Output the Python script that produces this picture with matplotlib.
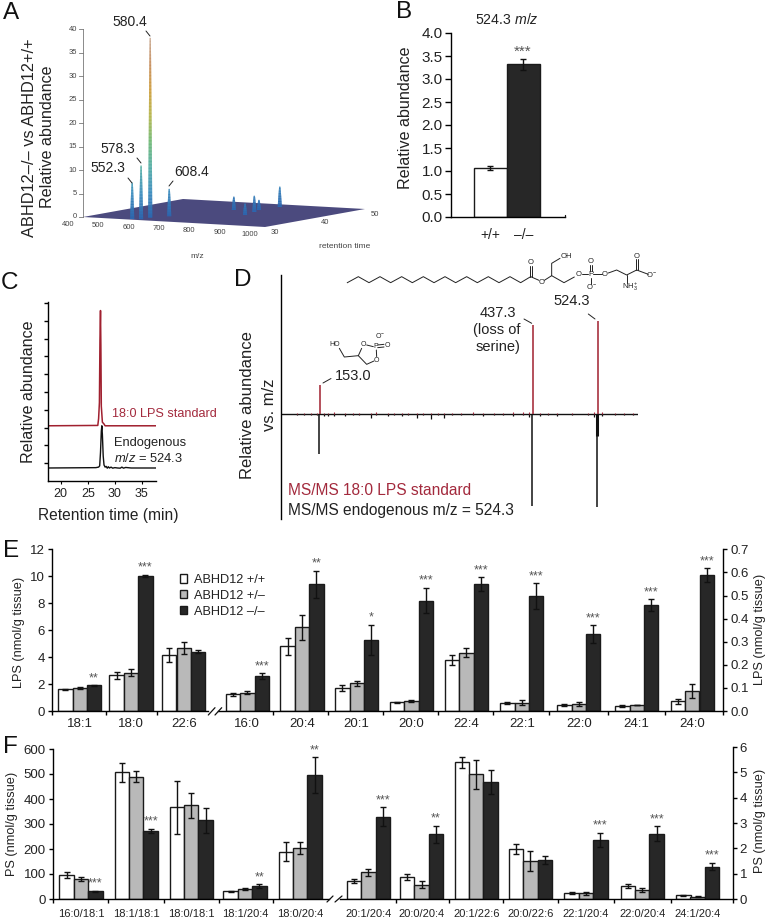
import matplotlib
matplotlib.use('Agg')
import matplotlib.pyplot as plt
from matplotlib.colors import LinearSegmentedColormap
from matplotlib.patches import Patch
import numpy as np

plt.rcParams['font.family'] = ['Liberation Sans', 'DejaVu Sans']
plt.rcParams['mathtext.fontset'] = 'custom'
plt.rcParams['mathtext.rm'] = 'Liberation Sans'
plt.rcParams['mathtext.it'] = 'Liberation Sans:italic'
plt.rcParams['axes.linewidth'] = 1.0

W, H = 768, 918
INK = '#222222'
RED = '#a32a3d'
WHITE_BAR, GRAY_BAR, DARK_BAR = 'white', '#b9b9b9', '#272727'

# panel A: peaks of the 3D map
a_mz = [552.3, 578.3, 580.4, 608.4, 683, 781, 762, 746, 757]
a_rt = [30.6, 30.8, 32.5, 34.6, 43.0, 39.3, 42.3, 44.2, 47.7]
a_h = [7.7, 11.4, 38.3, 5.8, 2.8, 2.4, 3.4, 2.1, 4.3]
a_z_ticks = [0, 5, 10, 15, 20, 25, 30, 35, 40]
a_mz_ticks = [400, 500, 600, 700, 800, 900, 1000]
a_rt_ticks = [30, 40, 50]

# panel B
b_labels = ['+/+', '–/–']
b_vals = [1.06, 3.32]
b_errs = [0.04, 0.12]

# panel C
c_red_rt = [17.6, 26.85, 27.0, 27.15, 27.25, 27.35, 27.42, 27.5, 27.7, 28.0, 28.2, 37.6]
c_red_y = [3.1, 3.12, 3.5, 4.4, 7.9, 9.57, 7.6, 4.2, 3.3, 3.2, 3.1, 3.1]
c_blk_rt = [17.6, 26.5, 27.0, 27.2, 27.35, 27.5, 27.6, 27.7, 27.85, 28.0, 28.2, 28.4, 28.6, 28.8, 29.0, 29.3,
            29.6, 30.0, 30.5, 31.0, 31.3, 31.6, 32.0, 33.0, 37.6]
c_blk_y = [0.73, 0.75, 0.78, 0.85, 1.6, 2.8, 3.1, 2.6, 1.4, 0.9, 0.78, 0.82, 0.72, 0.8, 0.73, 0.78,
           0.72, 0.75, 0.73, 0.72, 0.78, 0.72, 0.76, 0.73, 0.73]

# panel D
d_peak_mz = [153.0, 437.3, 524.3]
d_red = [31.6, 95.7, 100]
d_blk = [-43, -99, -100]
d_noise_mz = [122, 131, 141, 148, 158, 164, 172, 186, 197, 205, 221, 228, 244, 252, 262, 270, 282, 290, 301, 310, 319,
              330, 342, 358, 371, 385, 398, 411, 425, 433, 447, 458, 470, 490, 511, 520, 530, 548, 560, 572]
d_noise_up = [0.8, 1.2, 1, 1.5, 1.2, 1.6, 2.5, 1.5, 1, 1.2, 1, 2, 1, 1.5, 1, 1.2, 1, 1.5, 1, 1.2, 1,
              1.5, 1.2, 1.8, 1.3, 1, 1.5, 1.8, 2.5, 2, 1.5, 1, 1.5, 1, 1.5, 2, 2, 1, 1.4, 1]
d_noise_dn = [-1, -0.8, -1, -1.2, -2, -2.5, -2, -1.5, -1, -0.8, -4, -1.2, -1.5, -1, -2, -1, -4.5, -1, -5.5, -1, -4.5,
              -1, -1.2, -1, -1.5, -1, -1.2, -1.5, -1.2, -3, -1.5, -1, -1.5, -1, -1.2, -3, -2, -1, -1.2, -1]

# panel E
e_labels = ['18:1', '18:0', '22:6', '16:0', '20:4', '20:1', '20:0', '22:4', '22:1', '22:0', '24:1', '24:0']
e_wt = [1.6, 2.65, 4.15, 0.072, 0.28, 0.099, 0.038, 0.222, 0.034, 0.026, 0.022, 0.042]
e_wt_err = [0.05, 0.25, 0.55, 0.006, 0.038, 0.014, 0.003, 0.022, 0.005, 0.004, 0.003, 0.01]
e_het = [1.68, 2.85, 4.65, 0.08, 0.362, 0.12, 0.044, 0.252, 0.036, 0.03, 0.025, 0.086]
e_het_err = [0.08, 0.25, 0.45, 0.008, 0.055, 0.012, 0.003, 0.02, 0.01, 0.008, 0.001, 0.03]
e_ko = [1.9, 10.05, 4.4, 0.152, 0.548, 0.309, 0.478, 0.55, 0.497, 0.333, 0.46, 0.588]
e_ko_err = [0.03, 0.07, 0.1, 0.012, 0.06, 0.065, 0.055, 0.03, 0.055, 0.038, 0.025, 0.03]
e_stars = ['**', '***', '', '***', '**', '*', '***', '***', '***', '***', '***', '***']
legend_labels = ['ABHD12 +/+', 'ABHD12 +/–', 'ABHD12 –/–']

# panel F
f_labels = ['16:0/18:1', '18:1/18:1', '18:0/18:1', '18:1/20:4', '18:0/20:4', '20:1/20:4', '20:0/20:4',
            '20:1/22:6', '20:0/22:6', '22:1/20:4', '22:0/20:4', '24:1/20:4']
f_wt = [95, 507, 367, 31, 190, 0.71, 0.86, 5.39, 1.99, 0.25, 0.51, 0.14]
f_wt_err = [12, 38, 107, 3, 38, 0.08, 0.12, 0.22, 0.2, 0.04, 0.08, 0.03]
f_het = [80, 490, 376, 40, 205, 1.05, 0.57, 4.92, 1.5, 0.22, 0.34, 0.09]
f_het_err = [8, 22, 50, 3, 25, 0.15, 0.14, 0.58, 0.4, 0.05, 0.08, 0.02]
f_ko = [31, 273, 315, 53, 495, 3.25, 2.55, 4.63, 1.53, 2.33, 2.57, 1.28]
f_ko_err = [3, 8, 50, 7, 72, 0.38, 0.35, 0.48, 0.15, 0.28, 0.3, 0.15]
f_stars = ['***', '***', '', '**', '**', '***', '**', '', '', '***', '***', '***']

fig = plt.figure(figsize=(W / 100, H / 100), dpi=100)


def px_axes(left, top, right, bottom):
    return fig.add_axes([left / W, 1 - bottom / H, (right - left) / W, (bottom - top) / H])


# overlay in pixel units, used for labels, leader lines and the structures
ov = fig.add_axes([0, 0, 1, 1], zorder=20)
ov.set_xlim(0, W)
ov.set_ylim(H, 0)
ov.axis('off')
ov.patch.set_alpha(0)


def txt(x, y, s, size=10, color=INK, ha='center', va='center', **kw):
    ov.text(x, y, s, fontsize=size, color=color, ha=ha, va=va, **kw)


def seg(points, lw=0.7, color=INK):
    xs, ys = zip(*points)
    ov.plot(xs, ys, color=color, lw=lw, solid_capstyle='round')


for letter, lx, ly in [('A', 3, 13), ('B', 396, 12), ('C', 1, 283), ('D', 234, 280), ('E', 3, 551), ('F', 3, 747)]:
    txt(lx, ly, letter, size=17.5, color='#111111', ha='left')


# ---- A: pseudo 3D map, projected by hand onto the overlay
def project(mz, rt, h=0.0):
    u = (np.asarray(mz, float) - 400) / 600
    v = (np.asarray(rt, float) - 30) / 20
    return 83 + 182 * u + 100 * v, 217 + 10 * u - 18 * v - 4.69 * np.asarray(h, float)


corners = [project(400, 30), project(1000, 30), project(1000, 50), project(400, 50)]
ov.fill([c[0] for c in corners], [c[1] for c in corners], color='#4b4a7e', lw=0, zorder=1)
a_cmap = LinearSegmentedColormap.from_list('peak', ['#2b66b0', '#3f8fc0', '#58b0a8', '#74bb78', '#b8b850',
                                                    '#d0a040', '#c89060', '#c8a890'])
order = np.argsort(a_rt)[::-1]
for i in order:
    levels = np.linspace(0, a_h[i], int(a_h[i] * 6) + 4)
    bx, by = project(a_mz[i], a_rt[i])
    for lo, hi in zip(levels[:-1], levels[1:]):
        w_lo = 0.6 + 1.5 * (1 - lo / a_h[i]) ** 0.8
        w_hi = 0.6 + 1.5 * (1 - hi / a_h[i]) ** 0.8
        ov.fill([bx - w_lo, bx + w_lo, bx + w_hi, bx - w_hi],
                [by - 4.69 * lo, by - 4.69 * lo, by - 4.69 * hi - 0.3, by - 4.69 * hi - 0.3],
                color=a_cmap(min(hi / 38.3, 1)), lw=0, zorder=2)

zx, zy0 = project(400, 30)
ov.plot([zx, zx], [zy0, zy0 - 4.69 * 40], color='#777777', lw=0.6, zorder=3)
for t in a_z_ticks:
    ty = zy0 - 4.69 * t
    ov.plot([zx - 4, zx], [ty, ty], color='#777777', lw=0.6, zorder=3)
    txt(zx - 6, ty, str(t), size=5.5, color='#444444', ha='right')
for t in a_mz_ticks:
    tx, ty = project(t, 30)
    txt(tx - 15, ty + 7, str(t), size=5.5, color='#444444')
for t in a_rt_ticks:
    tx2, ty2 = project(1000, t)
    txt(tx2 + 10, ty2 + 5, str(t), size=5.5, color='#444444')
txt(197, 256, 'm/z', size=6, color='#444444')
txt(345, 246, 'retention time', size=6, color='#444444')
txt(30, 138, 'ABHD12–/– vs ABHD12+/+', size=11.8, rotation=90)
txt(48, 137, 'Relative abundance', size=11.6, rotation=90)
for s, x, y in [('580.4', 130, 22), ('578.3', 118, 149), ('552.3', 108, 168), ('608.4', 192, 172)]:
    txt(x, y, s, size=10)
seg([(146, 31), (150, 36)])
seg([(137, 158), (141, 163)])
seg([(128, 178), (132, 183)])
seg([(173, 181), (169, 186)])

# ---- B
ax = px_axes(451, 33, 565, 217)
ax.bar(range(2), b_vals, width=1, color=[WHITE_BAR, DARK_BAR], edgecolor='#1a1a1a', lw=1.0)
ax.errorbar(range(2), b_vals, yerr=b_errs, fmt='none', ecolor='#111111', elinewidth=1, capsize=2.5, capthick=1)
ax.set_xlim(-1.197, 2.258)
ax.set_ylim(0, 4)
ax.set_yticks(np.arange(0, 4.5, 0.5))
ax.set_xticks(range(2))
ax.set_xticklabels(b_labels, fontsize=10, color=INK)
ax.tick_params(axis='x', length=0, pad=8)
ax.tick_params(axis='y', length=4, width=1, pad=2, labelsize=11, labelcolor=INK)
for side in ['top', 'right']:
    ax.spines[side].set_visible(False)
txt(405, 117.5, 'Relative abundance', size=11.6, rotation=90)
txt(507, 20, r'524.3 $\it{m/z}$', size=10.2)
txt(522.7, 52, '***', size=11, color='#555555')
seg([(565, 214.5), (565, 217)], lw=0.9, color='#111111')

# ---- C
ax = px_axes(47.7, 302, 156, 481)
ax.plot(c_blk_rt, c_blk_y, color='#111111', lw=1.0)
ax.plot(c_red_rt, c_red_y, color='#a0202f', lw=1.1)
ax.set_xlim(17.6, 37.6)
ax.set_ylim(0, 10.05)
ax.set_xticks([20, 25, 30, 35])
ax.set_yticks(range(1, 11))
ax.set_yticklabels([])
ax.tick_params(axis='x', length=2, width=0.8, pad=3, labelsize=9, labelcolor=INK)
ax.tick_params(axis='y', length=3, width=1)
for side in ['top', 'right']:
    ax.spines[side].set_visible(False)
txt(29, 392, 'Relative abundance', size=11.6, rotation=90)
txt(107.8, 515.7, 'Retention time (min)', size=11.2)
txt(111.7, 414, '18:0 LPS standard', size=9.1, color=RED, ha='left')
txt(114, 443, 'Endogenous', size=9.3, ha='left')
txt(114, 459, r'$\it{m/z}$ = 524.3', size=9.3, ha='left')

# ---- D
ax = px_axes(280.7, 275, 637.7, 519)
ax.vlines(d_noise_mz, 0, d_noise_dn, color='#111111', lw=0.9)
ax.vlines(d_noise_mz, 0, d_noise_up, color=RED, lw=0.8)
ax.vlines(np.array(d_peak_mz) - 1.3, 0, d_blk, color='#111111', lw=1.1)
ax.vlines(np.array(d_peak_mz), 0, d_red, color='#a0202f', lw=1.1)
ax.vlines(d_peak_mz[2] - 1.3, 0, -24, color='#111111', lw=2.2)
ax.set_xlim(100, 578)
ax.set_ylim(-113, 150)
ax.set_xticks([])
ax.set_yticks([])
for side in ['top', 'right', 'bottom']:
    ax.spines[side].set_visible(False)
ax.axhline(0, color='#111111', lw=1.0, zorder=1)
txt(247, 404.7, 'Relative abundance', size=12, rotation=90)
txt(269, 404.7, 'vs. m/z', size=12, rotation=90)
txt(353, 375.7, '153.0', size=10.5)
txt(498, 313, '437.3', size=10.5)
txt(497, 330, '(loss of', size=10.5)
txt(498, 347, 'serine)', size=10.5)
txt(572, 301, '524.3', size=10.5)
seg([(323, 383), (331, 378.5)])
seg([(524, 319), (531.7, 323.3)])
seg([(588.3, 314), (595, 319)])
txt(287.7, 490.7, 'MS/MS 18:0 LPS standard', size=11.2, color=RED, ha='left')
txt(287.7, 510.7, 'MS/MS endogenous m/z = 524.3', size=11.2, ha='left')

# lipid structure
chain_x = 340 + np.array([22, 55, 87, 120, 152, 185, 217, 250, 282, 315, 347, 380, 412, 445, 477, 510, 542, 572]) / 3
chain_y = 245 + np.array([113, 95] * 9) / 3
ov.plot(chain_x, chain_y, color=INK, lw=0.7)


def z9(x, y):
    return 340 + x / 3, 245 + y / 3


seg([z9(569, 95), z9(569, 62)])
seg([z9(575, 95), z9(575, 62)])
seg([z9(572, 95), z9(597, 106)])
seg([z9(613, 106), z9(635, 92), z9(635, 55), z9(660, 40)])
seg([z9(635, 92), z9(672, 113), z9(703, 96)])
seg([z9(725, 88), z9(745, 88)])
seg([z9(760, 88), z9(785, 88)])
seg([z9(749, 78), z9(749, 60)])
seg([z9(755, 78), z9(755, 60)])
seg([z9(752, 98), z9(752, 116)])
seg([z9(805, 84), z9(830, 75), z9(860, 90), z9(890, 75), z9(925, 88)])
seg([z9(860, 90), z9(860, 115)])
seg([z9(887, 75), z9(887, 42)])
seg([z9(893, 75), z9(893, 42)])
for s, x, y in [('O', 572, 52), ('O', 605, 111), ('OH', 680, 36), ('O', 715, 90), ('P', 752, 88), ('O', 752, 50),
                (r'O$^{-}$', 755, 125), ('O', 795, 88), (r'NH$_3^+$', 872, 125), ('O', 890, 33), (r'O$^{-}$', 934, 88)]:
    sx, sy = z9(x, y)
    txt(sx, sy, s, size=5.5)


# cyclic phosphate fragment
def z10(x, y):
    return 310 + x / 3, 325 + y / 3


seg([z10(88, 70), z10(103, 96), z10(145, 92), z10(155, 70)])
seg([z10(170, 60), z10(190, 65)])
seg([z10(199, 75), z10(200, 95)])
seg([z10(192, 108), z10(170, 118), z10(145, 92)])
seg([z10(203, 60), z10(222, 58)])
seg([z10(203, 68), z10(222, 66)])
for s, x, y in [('HO', 75, 60), ('O', 160, 58), ('P', 197, 65), ('O', 200, 105), ('O', 233, 62), (r'O$^{-}$', 210, 33)]:
    sx, sy = z10(x, y)
    txt(sx, sy, s, size=5)

BW = 14.4


def bars(ax, xs, wt, wt_e, het, het_e, ko, ko_e, stars, offset):
    xs = np.asarray(xs)
    for dx, vals, errs, col in [(-BW, wt, wt_e, WHITE_BAR), (0, het, het_e, GRAY_BAR), (BW, ko, ko_e, DARK_BAR)]:
        ax.bar(xs + dx, vals, width=BW, color=col, edgecolor='#1a1a1a', lw=1.0, zorder=2)
        ax.errorbar(xs + dx, vals, yerr=errs, fmt='none', ecolor='#111111', elinewidth=1, capsize=2,
                    capthick=1, zorder=3)
    for x, v, e, s in zip(xs + BW, ko, ko_e, stars):
        if s:
            ax.annotate(s, (x, v + e), xytext=(0, offset), textcoords='offset points', ha='center', va='center',
                        fontsize=9, color='#555555')


def style_pair(ax_l, ax_r, left, right, left_end, right_start, left_ticks, right_ticks, centers, labels, n_left, pad):
    ax_l.set_xlim(left, right)
    ax_r.set_xlim(left, right)
    for a in (ax_l, ax_r):
        a.patch.set_alpha(0)
        a.spines['top'].set_visible(False)
    ax_l.spines['right'].set_visible(False)
    ax_r.spines['left'].set_visible(False)
    ax_l.spines['bottom'].set_bounds(left, left_end)
    ax_r.spines['bottom'].set_bounds(right_start, right)
    ax_l.set_xticks(left_ticks)
    ax_l.set_xticklabels([])
    ax_r.set_xticks(right_ticks)
    ax_r.set_xticklabels([])
    ax_l.set_xticks(centers[:n_left], labels[:n_left], minor=True)
    ax_r.set_xticks(centers[n_left:], labels[n_left:], minor=True)
    for a in (ax_l, ax_r):
        a.tick_params(axis='x', which='major', length=3, width=1)
        a.tick_params(axis='x', which='minor', length=0, pad=pad, labelcolor=INK)
        a.tick_params(axis='y', length=3, width=1, pad=2, labelsize=9.5, labelcolor=INK)


# ---- E (x units are pixels along the broken axis)
e_centers = np.array([79.7, 131, 183.7, 247.3, 302, 356.7, 411.3, 466.3, 521.8, 578.7, 636.7, 692.3])
e_left_ticks = [51.7, 106, 157.3]
e_right_ticks = [273.3, 328.3, 383.3, 438.3, 493.3, 549.3, 608.3, 665, 723.3]
ax = px_axes(51.7, 549.3, 723.3, 711)
ax2 = px_axes(51.7, 549.3, 723.3, 711)
ax2.yaxis.tick_right()
bars(ax, e_centers[:3], e_wt[:3], e_wt_err[:3], e_het[:3], e_het_err[:3], e_ko[:3], e_ko_err[:3], e_stars[:3], 5)
bars(ax2, e_centers[3:], e_wt[3:], e_wt_err[3:], e_het[3:], e_het_err[3:], e_ko[3:], e_ko_err[3:], e_stars[3:], 5)
ax.set_ylim(0, 12)
ax.set_yticks(range(0, 13, 2))
ax2.set_ylim(0, 0.7)
ax2.set_yticks(np.arange(0, 0.75, 0.1))
style_pair(ax, ax2, 51.7, 723.3, 208, 218, e_left_ticks, e_right_ticks, e_centers, e_labels, 3, 5)
for a in (ax, ax2):
    a.tick_params(axis='x', which='minor', labelsize=9.5)
ax2.set_yticklabels([f'{t:.1f}' for t in np.arange(0, 0.75, 0.1)])
txt(19, 632, 'LPS (nmol/g tissue)', size=9.2, rotation=90)
txt(760, 629, 'LPS (nmol/g tissue)', size=9.2, rotation=90)
seg([(208.3, 715), (215, 707.7)], lw=0.9, color='#111111')
seg([(215, 715), (221.7, 707.7)], lw=0.9, color='#111111')
handles = [Patch(facecolor=c, edgecolor='#1a1a1a', lw=1.0) for c in (WHITE_BAR, GRAY_BAR, DARK_BAR)]
ov.legend(handles, legend_labels, loc='upper left', bbox_to_anchor=(179.5 / W, 1 - 574 / H), frameon=False, fontsize=9.2,
          handlelength=0.6, handleheight=0.6, handletextpad=0.5, labelspacing=0.3, borderpad=0, borderaxespad=0,
          labelcolor=INK)

# ---- F
f_centers = np.array([81, 136.2, 191.2, 245, 300.3, 368.5, 421.7, 476.2, 530.5, 586, 642.2, 697.7])
f_left_ticks = [52.7, 108.3, 164.3, 219, 273.3]
f_right_ticks = [395.7, 449, 503.3, 558.3, 614.3, 671, 732.7]
ax = px_axes(52.7, 747, 732.7, 899)
ax2 = px_axes(52.7, 747, 732.7, 899)
ax2.yaxis.tick_right()
bars(ax, f_centers[:5], f_wt[:5], f_wt_err[:5], f_het[:5], f_het_err[:5], f_ko[:5], f_ko_err[:5], f_stars[:5], 5)
bars(ax2, f_centers[5:], f_wt[5:], f_wt_err[5:], f_het[5:], f_het_err[5:], f_ko[5:], f_ko_err[5:], f_stars[5:], 5)
ax.set_ylim(0, 608)
ax.set_yticks(range(0, 601, 100))
ax.spines['left'].set_bounds(0, 600)
ax2.set_ylim(0, 6)
ax2.set_yticks(range(0, 7))
style_pair(ax, ax2, 52.7, 732.7, 329, 340, f_left_ticks, f_right_ticks, f_centers, f_labels, 5, 7)
for a in (ax, ax2):
    a.tick_params(axis='x', which='minor', labelsize=8)
txt(12, 824, 'PS (nmol/g tissue)', size=9.2, rotation=90)
txt(760, 821, 'PS (nmol/g tissue)', size=9.2, rotation=90)
seg([(327, 902), (333, 896)], lw=0.9, color='#111111')
seg([(335, 902), (342, 896)], lw=0.9, color='#111111')

fig.savefig('out.png', dpi=100)
